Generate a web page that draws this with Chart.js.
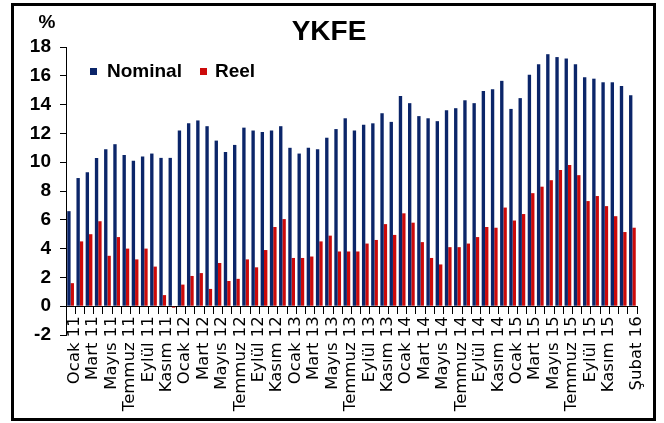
<!DOCTYPE html>
<html>
<head>
<meta charset="utf-8">
<script src="https://cdn.jsdelivr.net/npm/chart.js@4.4.1/dist/chart.umd.min.js"></script>
<style>
  html, body { margin: 0; padding: 0; background: #fff; }
  #frame {
    position: absolute; left: 11px; top: 3px;
    width: 639px; height: 412px;
    border: 3px solid #000;
  }
  #chart { position: absolute; left: 0; top: 0; }
</style>
</head>
<body>
<div id="frame"></div>
<canvas id="chart" width="664" height="423"></canvas>
<script>
// Aylar (Ocak 2011 - Şubat 2016)
const monthNames = ['Ocak', 'Şubat', 'Mart', 'Nisan', 'Mayıs', 'Haziran',
    'Temmuz', 'Ağustos', 'Eylül', 'Ekim', 'Kasım', 'Aralık'];
const years = ['11', '12', '13', '14', '15', '16'];
const lastMonthIndex = 61;

// Nominal YKFE (%)
const nominal = [
    6.6, 8.9, 9.3, 10.3, 10.9, 11.25, 10.5, 10.1, 10.4, 10.6, 10.3, 10.3,
    12.2, 12.7, 12.9, 12.5, 11.5, 10.7, 11.2, 12.4, 12.2, 12.1, 12.2, 12.5,
    11.0, 10.6, 11.0, 10.9, 11.7, 12.3, 13.05, 12.2, 12.6, 12.7, 13.4, 12.8,
    14.6, 14.1, 13.2, 13.05, 12.85, 13.6, 13.75, 14.3, 14.1, 14.95, 15.07, 15.65,
    13.7, 14.45, 16.07, 16.8, 17.5, 17.3, 17.2, 16.8, 15.9, 15.8, 15.55, 15.55,
    15.3, 14.65
];

// Reel YKFE (%)
const reel = [
    1.6, 4.5, 5.0, 5.9, 3.5, 4.8, 4.0, 3.25, 4.0, 2.75, 0.77, -0.1,
    1.5, 2.1, 2.3, 1.2, 3.0, 1.75, 1.9, 3.25, 2.7, 3.9, 5.5, 6.05,
    3.35, 3.35, 3.45, 4.5, 4.9, 3.8, 3.8, 3.8, 4.35, 4.6, 5.7, 4.95,
    6.45, 5.8, 4.45, 3.35, 2.9, 4.1, 4.1, 4.35, 4.8, 5.5, 5.45, 6.85,
    5.95, 6.4, 7.85, 8.3, 8.75, 9.45, 9.8, 9.1, 7.3, 7.65, 6.95, 6.25,
    5.15, 5.45
];

const yTicks = [-2, 0, 2, 4, 6, 8, 10, 12, 14, 16, 18];

// Kategori etiketlerini oluştur
const labels = [];
years.forEach(y => {
    monthNames.forEach(m => {
        if (labels.length <= lastMonthIndex) labels.push(m + ' ' + y);
    });
});

// Etiket göster: iki ayda bir, ve son ay
function showLabel(i) {
    return (i % 2 === 0 && i < 60) || i === lastMonthIndex;
}

const NAVY = '#0b2569';
const RED = '#cc0a0a';

// Başlık, % ve lejant çizimi
const decorPlugin = {
    id: 'decor',
    afterDraw(chart) {
        const ctx = chart.ctx;
        ctx.save();
        ctx.fillStyle = '#000';
        ctx.textAlign = 'center';
        ctx.textBaseline = 'middle';
        ctx.font = 'bold 28px "Liberation Sans", Arial, sans-serif';
        ctx.fillText('YKFE', 329, 32);
        ctx.font = 'bold 19px "Liberation Sans", Arial, sans-serif';
        ctx.fillText('%', 47, 23);

        // lejant
        const items = [
            { x: 90, tx: 107 },
            { x: 200, tx: 215 }
        ];
        ctx.textAlign = 'left';
        chart.data.datasets.forEach((ds, i) => {
            const it = items[i];
            ctx.fillStyle = ds.backgroundColor;
            ctx.fillRect(it.x, 68, 7, 7);
            ctx.fillStyle = '#000';
            ctx.fillText(ds.label, it.tx, 72);
        });
        ctx.restore();
    }
};

new Chart(document.getElementById('chart'), {
    type: 'bar',
    data: {
        labels: labels,
        datasets: [
            { label: 'Nominal', data: nominal, backgroundColor: NAVY, borderWidth: 0 },
            { label: 'Reel', data: reel, backgroundColor: RED, borderWidth: 0 }
        ]
    },
    options: {
        responsive: false,
        animation: false,
        devicePixelRatio: 1,
        datasets: {
            bar: { categoryPercentage: 0.73, barPercentage: 1.0 }
        },
        layout: {
            padding: { left: 0, right: 27, top: 47, bottom: 88 }
        },
        plugins: {
            legend: { display: false },
            title: { display: false },
            tooltip: { enabled: false }
        },
        scales: {
            x: {
                position: { y: 0 },
                grid: {
                    offset: true,
                    drawOnChartArea: false,
                    drawTicks: true,
                    tickLength: 7,
                    color: '#000'
                },
                border: { display: true, color: '#000', width: 1 },
                ticks: {
                    autoSkip: false,
                    minRotation: 90,
                    maxRotation: 90,
                    padding: 3,
                    labelOffset: 4,
                    color: '#000',
                    font: { family: '"DejaVu Sans", sans-serif', size: 16.5 },
                    callback: function(value, index) {
                        return showLabel(index) ? labels[index] : '';
                    }
                }
            },
            y: {
                min: yTicks[0],
                max: yTicks[yTicks.length - 1],
                afterFit: function(scale) { scale.width = 66; },
                afterBuildTicks: function(scale) {
                    scale.ticks = yTicks.map(v => ({ value: v }));
                },
                grid: {
                    drawOnChartArea: false,
                    drawTicks: true,
                    tickLength: 6,
                    color: '#000'
                },
                border: { display: true, color: '#000', width: 1 },
                ticks: {
                    padding: 9,
                    color: '#000',
                    font: { family: '"Liberation Sans", Arial, sans-serif', size: 19, weight: 'bold' }
                }
            }
        }
    },
    plugins: [decorPlugin]
});
</script>
</body>
</html>
